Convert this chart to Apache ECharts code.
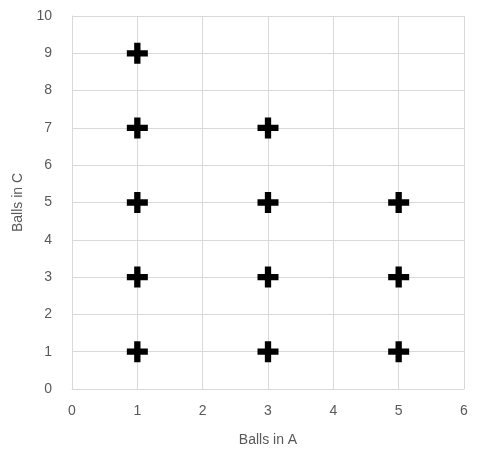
<!DOCTYPE html>
<html><head><meta charset="utf-8">
<script src="https://cdn.jsdelivr.net/npm/echarts@6/dist/echarts.min.js"></script>
<style>html,body{margin:0;padding:0;background:#fff}#c{width:480px;height:454px}</style>
</head><body><div id="c"></div>
<script>
var xValues = [1, 1, 3, 1, 3, 5, 1, 3, 5, 1, 3, 5];
var yValues = [9, 7, 7, 5, 5, 5, 3, 3, 3, 1, 1, 1];
var points = xValues.map(function (x, i) { return [x, yValues[i]]; });

var chart = echarts.init(document.getElementById('c'));
var lbl = { color: '#595959', fontSize: 14, fontFamily: 'Liberation Sans, Arial' };
chart.setOption({
  animation: false,
  grid: { left: 72, right: 16, top: 16, bottom: 65 },
  xAxis: {
    type: 'value', min: 0, max: 6, interval: 1,
    name: 'Balls in A', nameLocation: 'middle', nameGap: 44,
    nameTextStyle: lbl, axisLabel: Object.assign({ margin: 15 }, lbl),
    axisLine: { lineStyle: { color: '#d9d9d9' } }, axisTick: { show: false },
    splitLine: { lineStyle: { color: '#d9d9d9' } }
  },
  yAxis: {
    type: 'value', min: 0, max: 10, interval: 1,
    name: 'Balls in C', nameLocation: 'middle', nameGap: 44,
    nameTextStyle: lbl, axisLabel: Object.assign({ margin: 20 }, lbl),
    axisLine: { show: true, lineStyle: { color: '#d9d9d9' } }, axisTick: { show: false },
    splitLine: { lineStyle: { color: '#d9d9d9' } }
  },
  series: [{
    type: 'scatter', data: points,
    symbol: 'path://M7,0H13V7H20V13H13V20H7V13H0V7H7Z', symbolSize: 21,
    itemStyle: { color: '#000', opacity: 1 }
  }]
});
</script></body></html>
